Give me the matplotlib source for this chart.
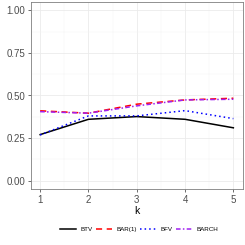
import numpy as np
import matplotlib
matplotlib.use('Agg')
import matplotlib.pyplot as plt
from matplotlib.ticker import MultipleLocator

plt.rcParams['font.family'] = ['Liberation Sans', 'DejaVu Sans']

k     = [1, 2, 3, 4, 5]
btv   = [0.270, 0.360, 0.376, 0.360, 0.310]
bar1  = [0.410, 0.396, 0.449, 0.474, 0.484]
bfv   = [0.268, 0.380, 0.380, 0.411, 0.364]
barch = [0.405, 0.396, 0.439, 0.474, 0.478]

fig = plt.figure(figsize=(2.45, 2.45), dpi=100)
ax  = fig.add_axes([30.5 / 245, 1 - 189 / 245, (243 - 30.5) / 245, (189 - 2) / 245])

ax.plot(k, btv,   color='black',  linewidth=1.1, label='BTV')
ax.plot(k, bar1,  color='red',    linewidth=1.1, linestyle=(0, (4, 3)), label='BAR(1)')
ax.plot(k, bfv,   color='blue',   linewidth=1.1, linestyle=(0, (1, 2)), label='BFV')
ax.plot(k, barch, color='#A020F0', linewidth=1.1, linestyle=(0, (3, 1.5, 1, 1.5)), label='BARCH')

ax.set_xlim(0.8, 5.2)
ax.set_ylim(-0.05, 1.05)
ax.xaxis.set_major_locator(MultipleLocator(1))
ax.xaxis.set_minor_locator(MultipleLocator(0.5))
ax.yaxis.set_minor_locator(MultipleLocator(0.125))
ax.set_yticks([0, 0.25, 0.5, 0.75, 1.0])
ax.set_yticklabels(['0.00', '0.25', '0.50', '0.75', '1.00'])
ax.grid(which='major', color='#EBEBEB', linewidth=0.6)
ax.grid(which='minor', color='#F3F3F3', linewidth=0.35)
ax.set_axisbelow(True)
for s in ax.spines.values():
    s.set_color('#7F7F7F')
    s.set_linewidth(0.6)
ax.tick_params(which='major', length=2.5, width=0.5, color='#333333',
               labelsize=7, labelcolor='#4D4D4D', pad=1.5)
ax.tick_params(which='minor', length=0)
ax.set_xlabel('k', fontsize=7.5, labelpad=1)

fig.legend(loc='center', bbox_to_anchor=(139 / 245, 1 - 229 / 245), ncol=4,
           frameon=False, fontsize=4.5, handlelength=2.6, handletextpad=0.7,
           columnspacing=0.5)

fig.savefig('out.png', dpi=100)
